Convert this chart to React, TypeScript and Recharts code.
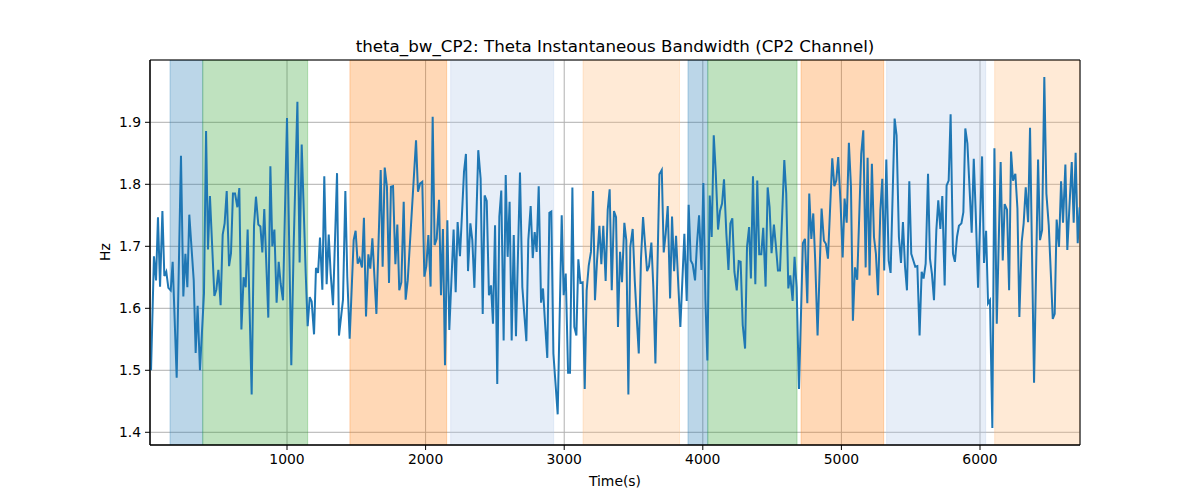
import React from 'react';
import { ComposedChart, Line, XAxis, YAxis, CartesianGrid, ReferenceArea } from 'recharts';

const times: number[] = [
  19, 40, 55, 69, 84, 101, 115, 129, 144, 161, 175, 204, 235, 252, 267, 281, 295, 327, 341, 355,
  372, 401, 416, 430, 444, 476, 490, 505, 521, 536, 550, 565, 582, 596, 610, 625, 642, 656, 671, 687,
  702, 716, 745, 762, 776, 793, 808, 822, 836, 865,
  880, 894, 909, 925, 940, 954, 971, 1000, 1031, 1048, 1075, 1091, 1106, 1135, 1149, 1164, 1178, 1195, 1209, 1224,
  1238, 1255, 1269, 1286, 1301, 1315, 1332, 1361, 1375, 1404, 1421, 1435, 1452, 1481, 1495, 1510, 1524, 1541, 1555, 1570,
  1587, 1601, 1616, 1645, 1676, 1690, 1705,
  1721, 1736, 1750, 1765, 1782, 1796, 1810, 1825, 1842, 1856, 1871, 1931, 1945, 1960, 1976, 1991, 2005, 2020, 2036, 2051,
  2065, 2080, 2097, 2111, 2125, 2140, 2157, 2171, 2202, 2217, 2231, 2248, 2277, 2291, 2306, 2323, 2337, 2352, 2380, 2397,
  2412, 2426, 2441, 2457, 2472, 2486, 2501, 2517, 2532, 2546, 2563, 2578, 2592, 2606,
  2621, 2636, 2652, 2681, 2698, 2712, 2727, 2741, 2758, 2773, 2787, 2801, 2816, 2833, 2847, 2862, 2878, 2893, 2907, 2922,
  2953, 2982, 2996, 3011, 3028, 3042, 3059, 3073, 3088, 3102, 3117, 3133, 3148, 3162, 3177, 3193, 3208, 3222, 3237, 3254,
  3268, 3282, 3299, 3314, 3328, 3343, 3359, 3374, 3388, 3403, 3417, 3434, 3448,
  3463, 3477, 3494, 3509, 3523, 3538, 3554, 3569, 3583, 3598, 3612, 3629, 3643, 3658, 3687, 3704, 3718, 3732, 3747, 3764,
  3778, 3793, 3807, 3824, 3838, 3867, 3884, 3898, 3913, 3927, 3944, 3958, 3973, 3990, 4004, 4019, 4033, 4050, 4064, 4079,
  4093, 4110, 4124, 4139, 4153, 4170, 4185, 4199, 4213, 4228, 4245, 4259, 4273, 4288, 4305, 4319, 4334,
  4347, 4362, 4379, 4393, 4407, 4422, 4436, 4453, 4468, 4482, 4496, 4513, 4528, 4542, 4557, 4588, 4602, 4617, 4631, 4648,
  4662, 4677, 4694, 4722, 4737, 4754, 4768, 4783, 4797, 4811, 4828, 4857, 4874, 4888, 4903, 4934, 4949, 4963, 4977, 4994,
  5009, 5023, 5038, 5054, 5069, 5083, 5098, 5114, 5143, 5158, 5175, 5189, 5203,
  5220, 5235, 5249, 5264, 5281, 5295, 5309, 5324, 5341, 5355, 5384, 5398, 5415, 5430, 5444, 5459, 5473, 5490, 5504, 5519,
  5533, 5548, 5564, 5579, 5593, 5608, 5625, 5639, 5653, 5668, 5685, 5699, 5714, 5728, 5745, 5759, 5774, 5788, 5805, 5819,
  5834, 5848,
  5866, 5880, 5894, 5909, 5940, 5955, 5969, 5986, 6015, 6029, 6044, 6058, 6072, 6089, 6104, 6121, 6149, 6164, 6178, 6195,
  6210, 6224, 6238, 6255, 6270, 6284, 6301, 6315, 6330, 6347, 6361, 6390, 6419, 6433, 6448, 6464, 6479, 6496, 6525, 6539,
  6553, 6570, 6585, 6599, 6616, 6630, 6645, 6662, 6676, 6690, 6705, 6719,
];

const bandwidth: number[] = [
  1.500, 1.684, 1.645, 1.747, 1.635, 1.757, 1.652, 1.659, 1.633, 1.629, 1.675, 1.488, 1.846, 1.619, 1.688, 1.634, 1.751, 1.645, 1.528, 1.604,
  1.500, 1.624, 1.886, 1.695, 1.781, 1.620, 1.630, 1.662, 1.605, 1.719, 1.737, 1.789, 1.668, 1.689, 1.785, 1.785, 1.763, 1.794, 1.566, 1.650,
  1.634, 1.727, 1.461, 1.733, 1.780, 1.735, 1.732, 1.690, 1.760, 1.585,
  1.829, 1.700, 1.727, 1.609, 1.675, 1.640, 1.613, 1.907, 1.508, 1.700, 1.933, 1.674, 1.864, 1.656, 1.571, 1.618, 1.611, 1.558, 1.665, 1.657,
  1.714, 1.630, 1.813, 1.639, 1.719, 1.656, 1.605, 1.818, 1.556, 1.614, 1.789, 1.651, 1.551, 1.710, 1.725, 1.672, 1.680, 1.666, 1.746, 1.587,
  1.687, 1.664, 1.713, 1.591, 1.823, 1.667, 1.827,
  1.796, 1.641, 1.796, 1.797, 1.671, 1.735, 1.629, 1.642, 1.772, 1.614, 1.645, 1.871, 1.788, 1.801, 1.804, 1.651, 1.668, 1.718, 1.635, 1.909,
  1.702, 1.712, 1.775, 1.621, 1.728, 1.508, 1.742, 1.565, 1.727, 1.626, 1.739, 1.684, 1.820, 1.849, 1.660, 1.737, 1.710, 1.633, 1.855, 1.809,
  1.591, 1.782, 1.773, 1.621, 1.637, 1.575, 1.734, 1.478, 1.748, 1.790, 1.548, 1.815, 1.683, 1.772,
  1.548, 1.718, 1.555, 1.819, 1.634, 1.591, 1.547, 1.710, 1.765, 1.681, 1.723, 1.691, 1.797, 1.609, 1.632, 1.575, 1.520, 1.754, 1.756, 1.527,
  1.429, 1.750, 1.621, 1.656, 1.496, 1.496, 1.795, 1.570, 1.556, 1.679, 1.641, 1.642, 1.470, 1.629, 1.669, 1.691, 1.789, 1.613, 1.677, 1.733,
  1.671, 1.733, 1.644, 1.759, 1.792, 1.629, 1.757, 1.747, 1.570, 1.691, 1.642, 1.738, 1.710,
  1.461, 1.699, 1.728, 1.645, 1.586, 1.527, 1.680, 1.747, 1.704, 1.660, 1.668, 1.706, 1.634, 1.511, 1.816, 1.823, 1.690, 1.720, 1.765, 1.616,
  1.748, 1.660, 1.717, 1.634, 1.570, 1.720, 1.612, 1.767, 1.677, 1.671, 1.645, 1.704, 1.750, 1.662, 1.802, 1.613, 1.516, 1.782, 1.715, 1.879,
  1.821, 1.727, 1.757, 1.769, 1.808, 1.720, 1.662, 1.737, 1.745, 1.659, 1.629, 1.676, 1.675, 1.573, 1.535, 1.699, 1.731,
  1.648, 1.813, 1.639, 1.806, 1.687, 1.687, 1.730, 1.635, 1.795, 1.763, 1.689, 1.735, 1.699, 1.661, 1.661, 1.839, 1.785, 1.632, 1.653, 1.612,
  1.683, 1.634, 1.470, 1.705, 1.712, 1.608, 1.785, 1.712, 1.753, 1.677, 1.556, 1.761, 1.709, 1.704, 1.680, 1.842, 1.797, 1.806, 1.844, 1.769,
  1.682, 1.777, 1.738, 1.867, 1.796, 1.580, 1.666, 1.646, 1.849, 1.887, 1.666, 1.843, 1.653,
  1.833, 1.715, 1.688, 1.621, 1.758, 1.809, 1.661, 1.840, 1.677, 1.657, 1.906, 1.879, 1.715, 1.673, 1.739, 1.667, 1.629, 1.805, 1.688, 1.677,
  1.667, 1.668, 1.556, 1.659, 1.648, 1.672, 1.817, 1.680, 1.656, 1.613, 1.726, 1.774, 1.728, 1.781, 1.637, 1.798, 1.806, 1.913, 1.688, 1.675,
  1.715, 1.733,
  1.737, 1.755, 1.890, 1.866, 1.722, 1.841, 1.755, 1.633, 1.845, 1.673, 1.725, 1.608, 1.613, 1.407, 1.858, 1.575, 1.836, 1.677, 1.768, 1.759,
  1.629, 1.853, 1.806, 1.817, 1.761, 1.586, 1.707, 1.737, 1.795, 1.739, 1.891, 1.480, 1.840, 1.710, 1.726, 1.973, 1.785, 1.734, 1.583, 1.591,
  1.743, 1.699, 1.805, 1.738, 1.832, 1.694, 1.763, 1.836, 1.738, 1.851, 1.705, 1.763,
];

const spanStarts: number[] = [156, 392, 1454, 2181, 3136, 3893, 4036, 4709, 5326, 6106];
const spanEnds: number[] = [392, 1149, 2152, 2924, 3832, 4036, 4680, 5305, 6041, 6721];
const spanColors: string[] = ['#1f77b4', '#2ca02c', '#ff7f0e', '#aec7e8', '#ffbb78', '#1f77b4', '#2ca02c', '#ff7f0e', '#aec7e8', '#ffbb78'];

const xTicks: number[] = [1000, 2000, 3000, 4000, 5000, 6000];
const yTicks: number[] = [1.4, 1.5, 1.6, 1.7, 1.8, 1.9];
const xDomain: number[] = [11.5, 6721.5];
const yDomain: number[] = [1.3795, 2.0005];

const data = times.map((t, i) => ({ t, v: bandwidth[i] }));

const FONT = '"DejaVu Sans", sans-serif';
const tickStyle = { fill: '#000', fontSize: 13.9, fontFamily: FONT };

export default function App() {
  return (
    <div style={{ position: 'absolute', left: 0, top: 0, width: 1200, height: 500, background: '#fff', fontFamily: FONT }}>
      <div style={{ position: 'absolute', left: 150, width: 930, top: 36, textAlign: 'center', fontSize: 16.7, lineHeight: '20px', color: '#000' }}>
        theta_bw_CP2: Theta Instantaneous Bandwidth (CP2 Channel)
      </div>
      <div style={{ position: 'absolute', left: 150, width: 930, top: 472, textAlign: 'center', fontSize: 13.9, lineHeight: '18px', color: '#000' }}>
        Time(s)
      </div>
      <div style={{ position: 'absolute', left: 105 - 30, top: 252 - 9, width: 60, textAlign: 'center', fontSize: 13.9, lineHeight: '18px', transform: 'rotate(-90deg)', color: '#000' }}>
        Hz
      </div>
      <ComposedChart width={1200} height={500} data={data} margin={{ top: 60, right: 120, bottom: 0, left: 0 }}>
        <CartesianGrid xAxisId="b" yAxisId="l" stroke="#b0b0b0" strokeWidth={1} />
        {spanStarts.map((s, i) => (
          <ReferenceArea
            key={i}
            xAxisId="b"
            yAxisId="l"
            x1={s}
            x2={spanEnds[i]}
            fill={spanColors[i]}
            fillOpacity={0.3}
            stroke={spanColors[i]}
            strokeOpacity={0.3}
            ifOverflow="hidden"
          />
        ))}
        <XAxis
          xAxisId="b"
          dataKey="t"
          type="number"
          domain={xDomain}
          ticks={xTicks}
          allowDataOverflow
          height={55}
          tick={tickStyle}
          tickSize={5}
          tickMargin={4}
          stroke="#000"
          tickLine={{ stroke: '#000' }}
          axisLine={{ stroke: '#000' }}
        />
        <XAxis xAxisId="t" orientation="top" dataKey="t" type="number" domain={xDomain} allowDataOverflow height={0} tick={false} tickLine={false} axisLine={{ stroke: '#000' }} />
        <YAxis
          yAxisId="l"
          type="number"
          domain={yDomain}
          ticks={yTicks}
          allowDataOverflow
          width={150}
          tick={tickStyle}
          tickSize={5}
          tickMargin={4}
          tickFormatter={(v: number) => v.toFixed(1)}
          tickLine={{ stroke: '#000' }}
          axisLine={{ stroke: '#000' }}
        />
        <YAxis yAxisId="r" orientation="right" type="number" domain={yDomain} allowDataOverflow width={0} tick={false} tickLine={false} axisLine={{ stroke: '#000' }} />
        <Line xAxisId="b" yAxisId="l" type="linear" dataKey="v" stroke="#1f77b4" strokeWidth={2} dot={false} activeDot={false} isAnimationActive={false} />
        <ReferenceArea
          xAxisId="b"
          yAxisId="l"
          x1={xDomain[0]}
          x2={xDomain[1]}
          y1={yDomain[0]}
          y2={yDomain[1]}
          fill="none"
          stroke="#000"
          strokeWidth={1}
          ifOverflow="visible"
        />
      </ComposedChart>
    </div>
  );
}
